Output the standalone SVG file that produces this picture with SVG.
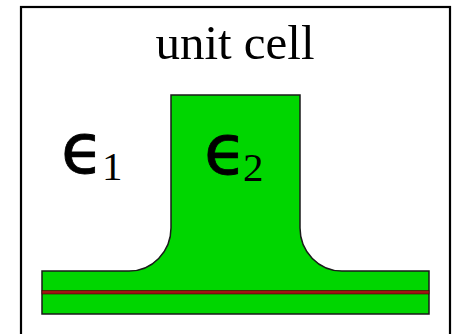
<svg xmlns="http://www.w3.org/2000/svg" width="454" height="334" viewBox="0 0 454 334">
<style>
.frame{fill:#fff;stroke:#000;stroke-width:2.2}
.green{fill:#00d600;stroke:#1a1a1a;stroke-width:1.5}
.serif{font-family:"Liberation Serif","Times New Roman",serif;fill:#000}
.eps{font-family:"DejaVu Sans",sans-serif;fill:#000}
.epsg{stroke:#000;stroke-width:0.8}
.sub{font-family:"Liberation Serif","Times New Roman",serif;font-size:41px;stroke:none}
</style>
<rect width="454" height="334" fill="#fff"/>
<g id="cell">
<rect class="frame" x="21" y="7" width="429" height="340"/>
</g>
<g id="title">
<text class="serif" x="235" y="59" font-size="49" text-anchor="middle">unit cell</text>
</g>
<g id="structure">
<path class="green" d="M171,95 H300 V228 A42,43 0 0 0 342,271 H429 V314 H42 V271 H129 A42,43 0 0 0 171,228 Z"/>
<rect x="42" y="290.5" width="387" height="3.5" fill="#a01414" stroke="#3a0000" stroke-width="0.6"/>
</g>
<g id="eps1">
<text class="eps" font-size="70" x="61" y="173"><tspan class="epsg">ϵ</tspan><tspan class="sub" x="102" y="180">1</tspan></text>
</g>
<g id="eps2">
<text class="eps" font-size="70" x="204" y="174"><tspan class="epsg">ϵ</tspan><tspan class="sub" x="243" y="181">2</tspan></text>
</g>
</svg>
